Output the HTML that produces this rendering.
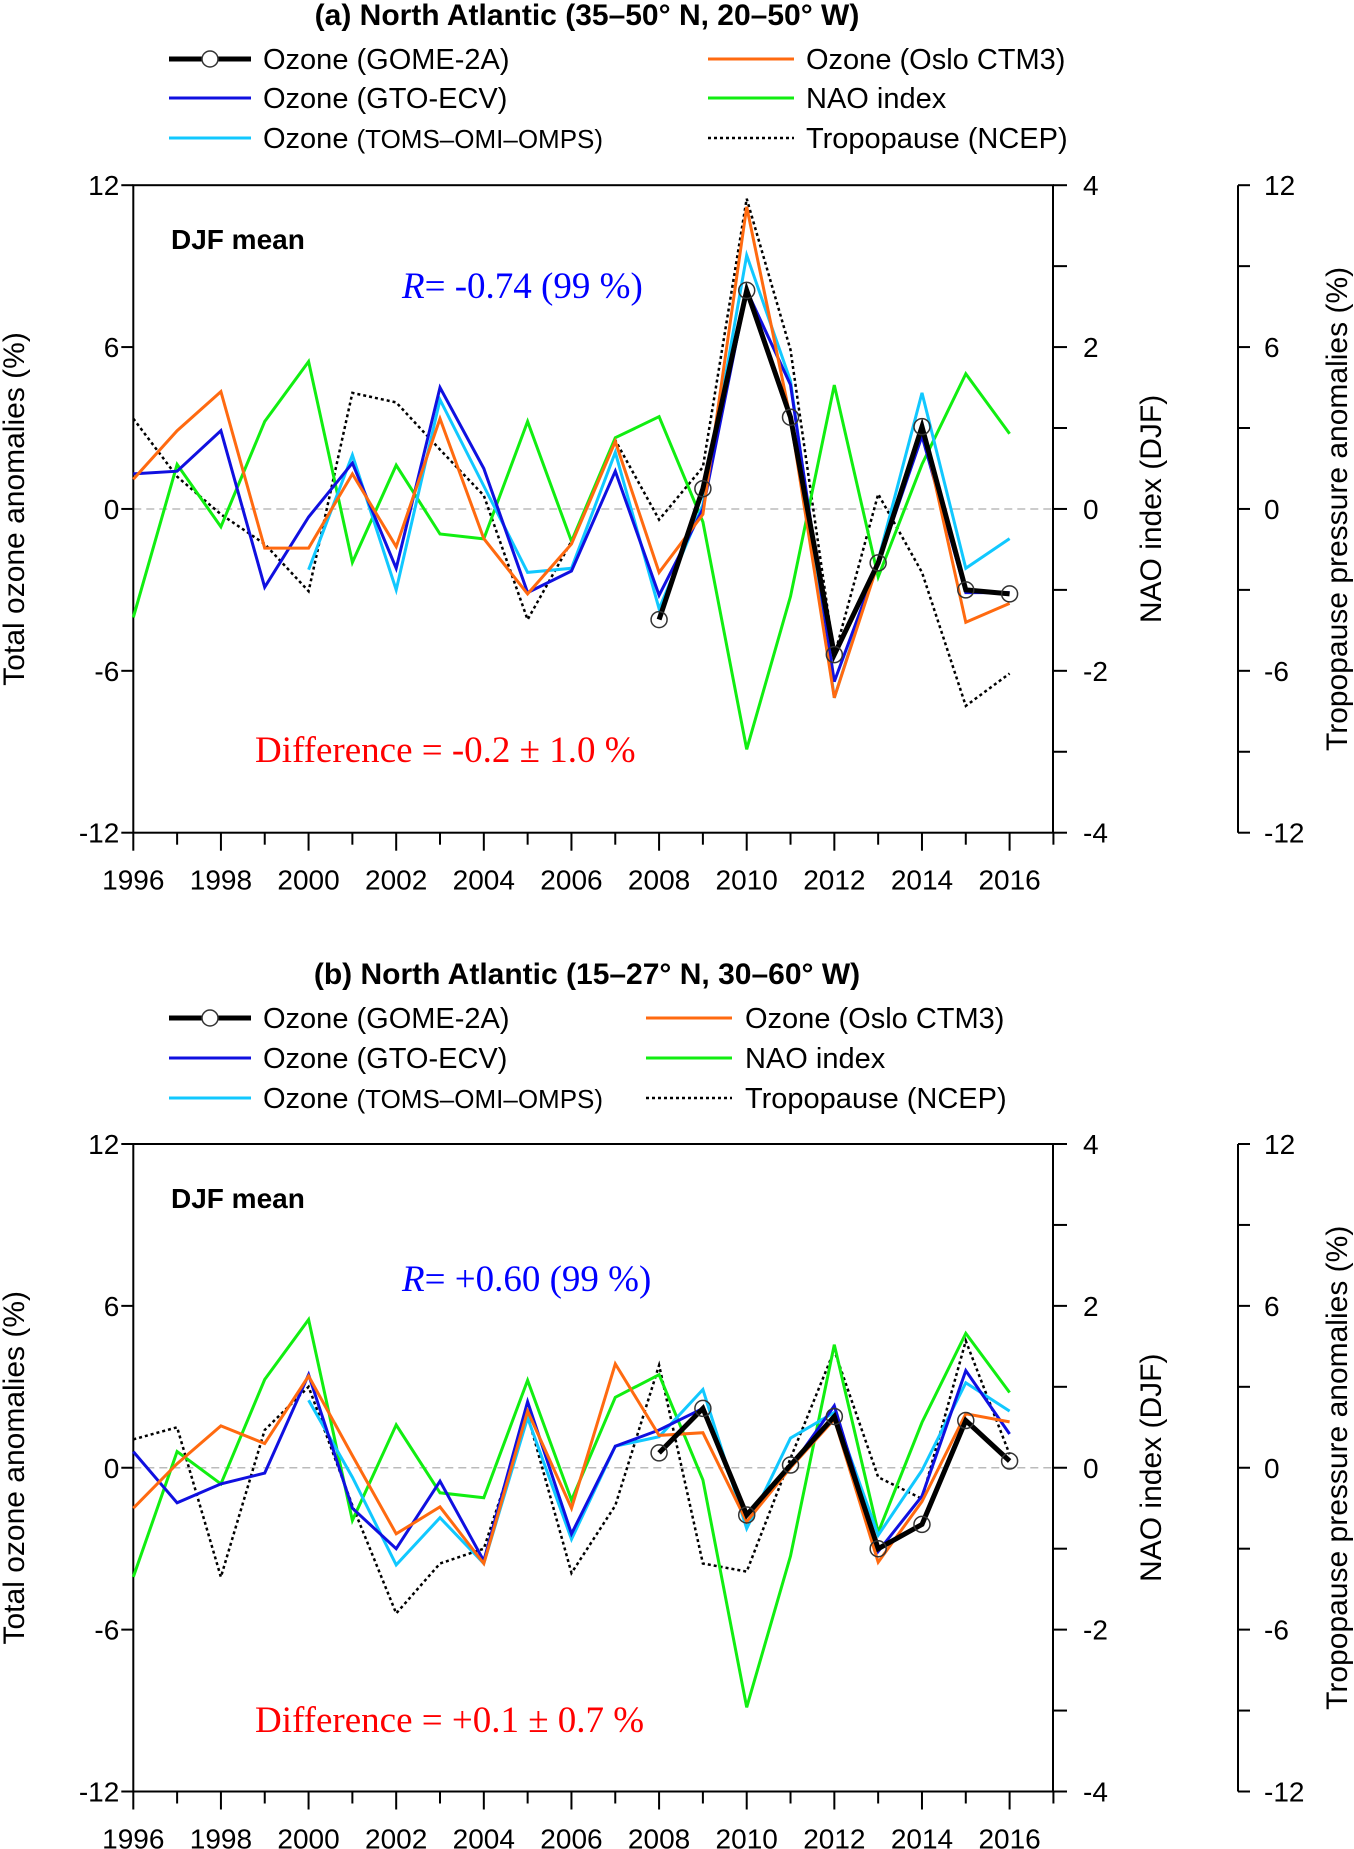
<!DOCTYPE html>
<html><head><meta charset="utf-8"><style>
body{margin:0;background:#fff;}
svg{display:block;font-family:"Liberation Sans",sans-serif;}
</style></head><body>
<svg id="c" width="1354" height="1849" viewBox="0 0 1354 1849"></svg>
<script>
const years=[1996,1997,1998,1999,2000,2001,2002,2003,2004,2005,2006,2007,2008,2009,2010,2011,2012,2013,2014,2015,2016];
// Panel a
const aGTO=[1.3,1.4,2.9,-2.9,-0.3,1.7,-2.2,4.5,1.5,-3.1,-2.3,1.4,-3.2,0,8.1,4.6,-6.4,-2,2.7,-3.1,-3.1];
const aOslo=[1.1,2.9,4.35,-1.45,-1.45,1.3,-1.4,3.35,-1.1,-3.15,-1.3,2.5,-2.35,-0.2,11.2,3.35,-7.0,-2.0,3.15,-4.2,-3.5];
const aTOMS=[null,null,null,null,-2.25,2.0,-3.0,4.05,0.85,-2.35,-2.2,2.1,-3.7,0.15,9.4,4.75,-7.0,-1.9,4.3,-2.2,-1.1];
const aGOME=[null,null,null,null,null,null,null,null,null,null,null,null,-4.1,0.75,8.1,3.4,-5.4,-2.0,3.05,-3.0,-3.15];
const aNAO=[-1.34,0.55,-0.22,1.08,1.82,-0.66,0.54,-0.31,-0.37,1.08,-0.4,0.88,1.14,-0.16,-2.97,-1.08,1.53,-0.84,0.55,1.67,0.93];
const aTrop=[3.35,1.2,-0.2,-1.3,-3.05,4.3,3.95,2.2,0.5,-4.1,-1.2,2.55,-0.4,1.55,11.5,5.9,-5.45,0.55,-2.35,-7.3,-6.1];
// Panel b
const bGTO=[0.6,-1.3,-0.6,-0.2,3.45,-1.5,-3.0,-0.5,-3.45,2.45,-2.45,0.8,1.4,2.2,-1.7,0,2.3,-3.1,-1.05,3.6,1.25];
const bOslo=[-1.5,0.15,1.55,0.9,3.4,0.45,-2.45,-1.45,-3.55,2.1,-1.5,3.85,1.2,1.3,-2.0,0,1.8,-3.5,-1.25,2.0,1.7];
const bTOMS=[null,null,null,null,2.5,-0.35,-3.6,-1.85,-3.55,1.85,-2.65,0.8,1.15,2.9,-2.25,1.1,2.05,-2.5,-0.1,3.15,2.1];
const bGOME=[null,null,null,null,null,null,null,null,null,null,null,null,0.55,2.2,-1.75,0.1,1.9,-3.0,-2.1,1.75,0.25];
const bNAO=[-1.35,0.2,-0.2,1.09,1.83,-0.65,0.53,-0.31,-0.37,1.08,-0.4,0.87,1.15,-0.15,-2.96,-1.09,1.52,-0.8,0.56,1.66,0.93];
const bTrop=[1.05,1.5,-4.05,1.4,3.0,-1.4,-5.4,-3.55,-3.0,1.95,-3.9,-1.4,3.8,-3.55,-3.85,0.35,4.35,-0.35,-1.15,4.7,0.5];
const ozTicks=[-12,-6,0,6,12];
const naoTicks=[-4,-2,0,2,4];
const xTickLabels=[1996,1998,2000,2002,2004,2006,2008,2010,2012,2014,2016];

const NS="http://www.w3.org/2000/svg";
const svg=document.getElementById('c');
function el(tag,attrs,parent,text){const e=document.createElementNS(NS,tag);for(const k in attrs)e.setAttribute(k,attrs[k]);if(text!==undefined)e.textContent=text;(parent||svg).appendChild(e);return e;}

const L=133.3,R=1053,X0=133.3,X1=1009.6,AX3=1238;
function drawPanel(p,top,bot,title,rText,dText,gto,oslo,toms,gome,nao,trop){
  const g=el('g',{},svg);
  
  
  const xs=y=>X0+(y-1996)*(X1-X0)/20;
  const ys=v=>bot-(v+12)*(bot-top)/24;
  const yn=v=>ys(v*3);
  const z=el('line',{x1:L,x2:R,y1:ys(0),y2:ys(0),stroke:'#bbb','stroke-width':1.5,'stroke-dasharray':'8,5'},g);
  
  const fr=el('rect',{x:L,y:top,width:R-L,height:bot-top,fill:'none',stroke:'#000','stroke-width':2},g);
  
  ozTicks.forEach(t=>{el('line',{x1:L-12,x2:L,y1:ys(t),y2:ys(t),stroke:'#000','stroke-width':2},g);
    const tx=el('text',{x:L-14,y:ys(t)+10,'text-anchor':'end','font-size':28},g,String(t));
    });
  for(let v=-4;v<=4;v++){el('line',{x1:R,x2:R+14,y1:yn(v),y2:yn(v),stroke:'#000','stroke-width':2},g);}
  naoTicks.forEach(t=>{const tx=el('text',{x:R+30,y:yn(t)+10,'font-size':28},g,String(t));
    });
  el('line',{x1:AX3,x2:AX3,y1:top,y2:bot,stroke:'#000','stroke-width':2},g);
  for(let v=-12;v<=12;v+=3){el('line',{x1:AX3,x2:AX3+12,y1:ys(v),y2:ys(v),stroke:'#000','stroke-width':2},g);}
  ozTicks.forEach(t=>{const tx=el('text',{x:AX3+26,y:ys(t)+10,'font-size':28},g,String(t));
    });
  for(let y=1996;y<=2017;y++){const len=(y%2===0)?18:12;el('line',{x1:xs(y),x2:xs(y),y1:bot,y2:bot+len,stroke:'#000','stroke-width':2},g);}
  xTickLabels.forEach(t=>{const tx=el('text',{x:xs(t),y:bot+57,'text-anchor':'middle','font-size':28},g,String(t));
    });
  const mid=(top+bot)/2;
  let t1=el('text',{x:0,y:0,'text-anchor':'middle','font-size':30,transform:`translate(24,${mid}) rotate(-90)`},g,'Total ozone anomalies (%)');
  
  let t2=el('text',{x:0,y:0,'text-anchor':'middle','font-size':30,transform:`translate(1161,${mid}) rotate(-90)`},g,'NAO index (DJF)');
  
  let t3=el('text',{x:0,y:0,'text-anchor':'middle','font-size':30,transform:`translate(1347,${mid}) rotate(-90)`},g,'Tropopause pressure anomalies (%)');
  
  function line(vals,scale,color,w,dash,name){
    let d='';vals.forEach((v,i)=>{if(v===null)return;d+=(d?'L':'M')+xs(years[i]).toFixed(1)+','+scale(v).toFixed(1);});
    const a={d:d,fill:'none',stroke:color,'stroke-width':w,'stroke-linejoin':'miter'};if(dash)a['stroke-dasharray']=dash;
    const pth=el('path',a,g);
  }
  line(trop,ys,'#000',2.5,'3,3','tropopause-line');
  line(nao,yn,'#11ee11',3,null,'nao-line');
  line(toms,ys,'#11c8ff',3,null,'toms-omi-omps-line');
  line(gto,ys,'#1010e0',3,null,'gto-ecv-line');
  line(oslo,ys,'#ff6a10',3,null,'oslo-ctm3-line');
  line(gome,ys,'#000',5,null,'gome-2a-line');
  gome.forEach((v,i)=>{if(v===null)return;const c=el('circle',{cx:xs(years[i]),cy:ys(v),r:8,fill:'none',stroke:'#333','stroke-width':1.5},g);
    });
  let a1=el('text',{x:171,y:top+64,'font-size':28,'font-weight':'bold'},g,'DJF mean');
  let a2=el('text',{x:402,y:top+p.rY,'font-size':37,fill:'#0000ff','font-family':'"Liberation Serif",serif'},g);
  
  el('tspan',{'font-style':'italic'},a2,'R');el('tspan',{},a2,rText);
  let a3=el('text',{x:255,y:top+p.dY,'font-size':37,fill:'#ff0000','font-family':'"Liberation Serif",serif'},g,dText);
  
}
function legend(p,ty,rows,c2l,c2t){
  const g=el('g',{},svg);
  const tt=el('text',{x:587,y:ty,'text-anchor':'middle','font-size':30,'font-weight':'bold'},g,p.title);
  
  const items=[[169,251,263,rows[0],'#000',5,null,'Ozone (GOME-2A)'],[169,251,263,rows[1],'#1010e0',3,null,'Ozone (GTO-ECV)'],[169,251,263,rows[2],'#11c8ff',3,null,'Ozone '],
    [c2l,c2l+86,c2t,rows[0],'#ff6a10',3,null,'Ozone (Oslo CTM3)'],[c2l,c2l+86,c2t,rows[1],'#11ee11',3,null,'NAO index'],[c2l,c2l+86,c2t,rows[2],'#000',2.5,'3,3','Tropopause (NCEP)']];
  items.forEach((it,i)=>{
    const a={x1:it[0],x2:it[1],y1:it[3],y2:it[3],stroke:it[4],'stroke-width':it[5]};if(it[6])a['stroke-dasharray']=it[6];
    const ln=el('line',a,g);
    if(i===0){el('circle',{cx:(it[0]+it[1])/2,cy:it[3],r:8,fill:'#fff',stroke:'#333','stroke-width':1.5},g);}
    const tx=el('text',{x:it[2],y:it[3]+10,'font-size':29},g,it[7]);
    
    if(i===2){el('tspan',{'font-size':26},tx,'(TOMS\u2013OMI\u2013OMPS)');}
  });
}
legend({id:'a',title:'(a) North Atlantic (35\u201350\u00b0 N, 20\u201350\u00b0 W)'},25,[59,98,138],708,806);
drawPanel({id:'a',rY:113,dY:577},185.2,832.7,'a','= -0.74 (99 %)','Difference = -0.2 \u00b1 1.0 %',aGTO,aOslo,aTOMS,aGOME,aNAO,aTrop);
legend({id:'b',title:'(b) North Atlantic (15\u201327\u00b0 N, 30\u201360\u00b0 W)'},984,[1018,1058,1098],646,745);
drawPanel({id:'b',rY:147,dY:588},1144,1791.5,'b','= +0.60 (99 %)','Difference = +0.1 \u00b1 0.7 %',bGTO,bOslo,bTOMS,bGOME,bNAO,bTrop);
</script>
</body></html>
